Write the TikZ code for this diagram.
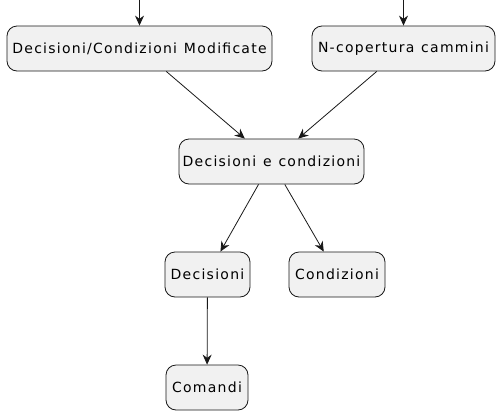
\documentclass[tikz,border=0pt]{standalone}
\usepackage{fontspec}
\setmainfont{DejaVu Sans}[LetterSpace=9, WordSpace=1.2]
\usetikzlibrary{arrows.meta}
\definecolor{boxfill}{HTML}{F1F1F1}
\definecolor{boxline}{HTML}{181818}

\begin{document}
\begin{tikzpicture}[x=1pt, y=-1pt,
    stepbox/.style={draw=boxline, fill=boxfill, line width=0.8pt, rounded corners=10pt,
                    minimum height=45pt, inner sep=0pt, font=\fontsize{14}{16}\selectfont},
    flow/.style={-{Stealth[length=10pt, width=9pt]}, draw=boxline, line width=0.8pt}]
            \useasboundingbox (0, 0) rectangle (498, 413);
            \node[stepbox, minimum width=265pt] (modificate) at (139.5, 48.5) {Decisioni/Condizioni Modificate};
            \node[stepbox, minimum width=183pt] (cammini) at (403.5, 48.5) {N-copertura cammini};
            \node[stepbox, minimum width=185pt] (deccond) at (271.5, 161.5) {Decisioni e condizioni};
            \node[stepbox, minimum width=85pt] (decisioni) at (207.5, 274.5) {Decisioni};
            \node[stepbox, minimum width=96pt] (condizioni) at (337, 274.5) {Condizioni};
            \node[stepbox, minimum width=82pt] (comandi) at (207, 387.5) {Comandi};
            \coordinate (inmod) at (139.5, 0);
            \coordinate (incam) at (403.5, 0);
            \draw[flow] (inmod) -- (modificate);
            \draw[flow] (incam) -- (cammini);
            \draw[flow] (modificate) -- (deccond);
            \draw[flow] (cammini) -- (deccond);
            \draw[flow] (deccond) -- (decisioni);
            \draw[flow] (deccond) -- (condizioni);
            \draw[flow] (decisioni) -- (comandi);
        \end{tikzpicture}
\end{document}
